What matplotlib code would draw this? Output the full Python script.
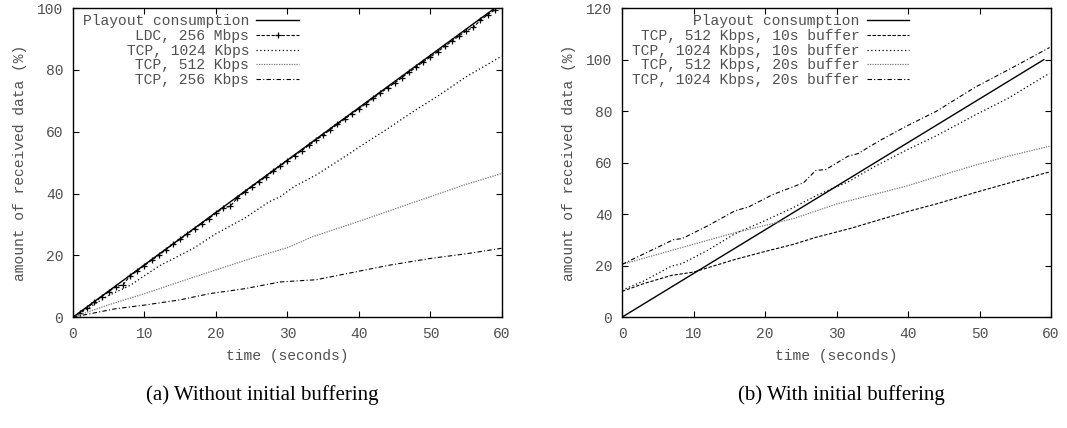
import numpy as np
import matplotlib
matplotlib.use('Agg')
import matplotlib.pyplot as plt

# ---- data ----
t_play = [0, 59]
v_play = [0, 100]

t_ldc = list(range(60))
v_ldc = [0.0, 1.3, 3.1, 4.8, 6.6, 8.2, 9.9, 10.5, 13.4, 15.0,
         16.7, 18.4, 20.0, 21.8, 23.6, 25.2, 26.9, 28.6, 30.3, 31.9,
         33.6, 35.3, 35.9, 38.6, 40.4, 42.1, 43.8, 45.4, 47.2, 48.9,
         50.6, 52.3, 53.9, 55.6, 57.3, 58.9, 60.7, 62.4, 64.1, 65.8,
         67.4, 69.1, 70.8, 72.5, 74.2, 75.8, 77.5, 79.2, 80.9, 82.6,
         84.2, 85.9, 87.6, 89.3, 91.0, 92.6, 93.8, 96.1, 97.8, 99.4]

t_tcp1024 = [0, 2, 5, 8, 12, 16.8, 20, 24, 27.4, 29, 30.9, 34, 38, 41, 43.7, 47.9, 51, 55, 60]
v_tcp1024 = [0, 2.8, 7.0, 10.3, 16.5, 22.2, 27, 32, 37.3, 39.0, 42.2, 46, 51.9, 56.5, 60.5, 67, 71.5, 77.8, 84.5]

t_tcp512 = [0, 5, 10, 15, 20, 24.8, 30, 33.5, 40, 45, 50, 55, 60]
v_tcp512 = [0, 4, 7.6, 11.5, 15.3, 18.9, 22.5, 26, 31, 35, 39, 43, 46.5]

t_tcp256 = [0, 5.9, 10, 15, 19.1, 24, 29, 34, 39, 44.2, 50, 55, 60]
v_tcp256 = [0, 2.7, 3.9, 5.6, 7.6, 9.2, 11.4, 12.1, 14.4, 16.8, 19, 20.5, 22.3]

t_512_10 = [0, 3, 6.9, 10, 15.8, 20, 24, 27, 32, 36, 39.8, 44, 49.4, 54, 59.8]
v_512_10 = [10, 13, 16.2, 17.5, 22.4, 25.5, 28.3, 30.9, 34.5, 37.8, 40.9, 44, 48.4, 52, 56.4]

t_1024_10 = [0, 3, 6.9, 8.4, 12, 15.8, 20, 23.7, 27.3, 31.6, 35, 39.8, 44, 49.4, 54, 59.8]
v_1024_10 = [10.5, 14, 19.8, 20.8, 26, 32.4, 37.5, 42.2, 47.4, 52.5, 58, 64.9, 70.5, 78.5, 85, 94.7]

t_512_20 = [0, 6.9, 15.8, 24, 30.2, 35, 39.8, 44, 49.4, 54, 59.8]
v_512_20 = [20.5, 25.9, 32.8, 38.3, 44.1, 47.5, 50.9, 54.5, 59, 62.5, 66.4]

t_1024_20 = [0, 3, 7.2, 8.4, 12, 15.8, 17.7, 21, 25.4, 27.1, 28.5, 31.6, 33, 36, 39.8, 44, 49.4, 54, 59.8]
v_1024_20 = [20.5, 24.5, 30.1, 30.5, 35.5, 41.3, 42.8, 47.5, 52.2, 57.0, 57.3, 62.5, 63.5, 68.5, 74.2, 80, 89.3, 96, 104.7]

mono = 'Liberation Mono'
grey = '#505050'
fs = 10.5
plt.rcParams['font.family'] = mono
plt.rcParams['font.size'] = fs

fig = plt.figure(figsize=(10.67, 4.28), dpi=100)
ax1 = fig.add_axes([0.0684, 0.259, 0.402, 0.722])
ax2 = fig.add_axes([0.583, 0.259, 0.402, 0.722])

solid = '-'
dashed = (0, (3, 1.5))
dots = (0, (1, 2))
fine = (0, (1, 1))
dashdot = (0, (4, 2, 1, 2))

ax1.plot(t_play, v_play, color='black', lw=1.0, linestyle=solid, label='Playout consumption')
ax1.plot(t_ldc, v_ldc, color='black', lw=0.8, linestyle=dashed, marker='+', ms=5, mew=0.9,
         label='LDC, 256 Mbps')
ax1.plot(t_tcp1024, v_tcp1024, color='black', lw=0.9, linestyle=dots, label='TCP, 1024 Kbps')
ax1.plot(t_tcp512, v_tcp512, color='#777777', lw=0.9, linestyle=fine, label='TCP, 512 Kbps')
ax1.plot(t_tcp256, v_tcp256, color='black', lw=0.8, linestyle=dashdot, label='TCP, 256 Kbps')
ax1.set_ylim(0, 100)
ax1.set_yticks(range(0, 101, 20))

ax2.plot(t_play, v_play, color='black', lw=1.0, linestyle=solid, label='Playout consumption')
ax2.plot(t_512_10, v_512_10, color='black', lw=0.8, linestyle=dashed, label='TCP, 512 Kbps, 10s buffer')
ax2.plot(t_1024_10, v_1024_10, color='black', lw=0.9, linestyle=dots, label='TCP, 1024 Kbps, 10s buffer')
ax2.plot(t_512_20, v_512_20, color='#777777', lw=0.9, linestyle=fine, label='TCP, 512 Kbps, 20s buffer')
ax2.plot(t_1024_20, v_1024_20, color='black', lw=0.8, linestyle=dashdot, label='TCP, 1024 Kbps, 20s buffer')
ax2.set_ylim(0, 120)
ax2.set_yticks(range(0, 121, 20))

for ax in (ax1, ax2):
    ax.set_xlim(0, 60)
    ax.set_xticks(range(0, 61, 10))
    ax.tick_params(direction='in', length=4, width=0.8, top=True, right=True,
                   labelcolor=grey, labelsize=fs, pad=7)
    for s in ax.spines.values():
        s.set_linewidth(1.0)
    ax.set_xlabel('time (seconds)', color=grey, fontsize=fs, labelpad=6)
    ax.set_ylabel('amount of received data (%)', color=grey, fontsize=fs, labelpad=7)
    ax.legend(loc='upper left', bbox_to_anchor=(0.023, 0.98), frameon=False,
              markerfirst=False, numpoints=1, handlelength=2.9, handletextpad=0.5,
              labelspacing=0.05, borderpad=0, borderaxespad=0, fontsize=fs,
              labelcolor=grey)

fig.text(0.2456, 0.077, '(a) Without initial buffering', ha='center', va='center',
         family='Liberation Serif', fontsize=15)
fig.text(0.789, 0.077, '(b) With initial buffering', ha='center', va='center',
         family='Liberation Serif', fontsize=15)

fig.savefig('out.png', dpi=100)
